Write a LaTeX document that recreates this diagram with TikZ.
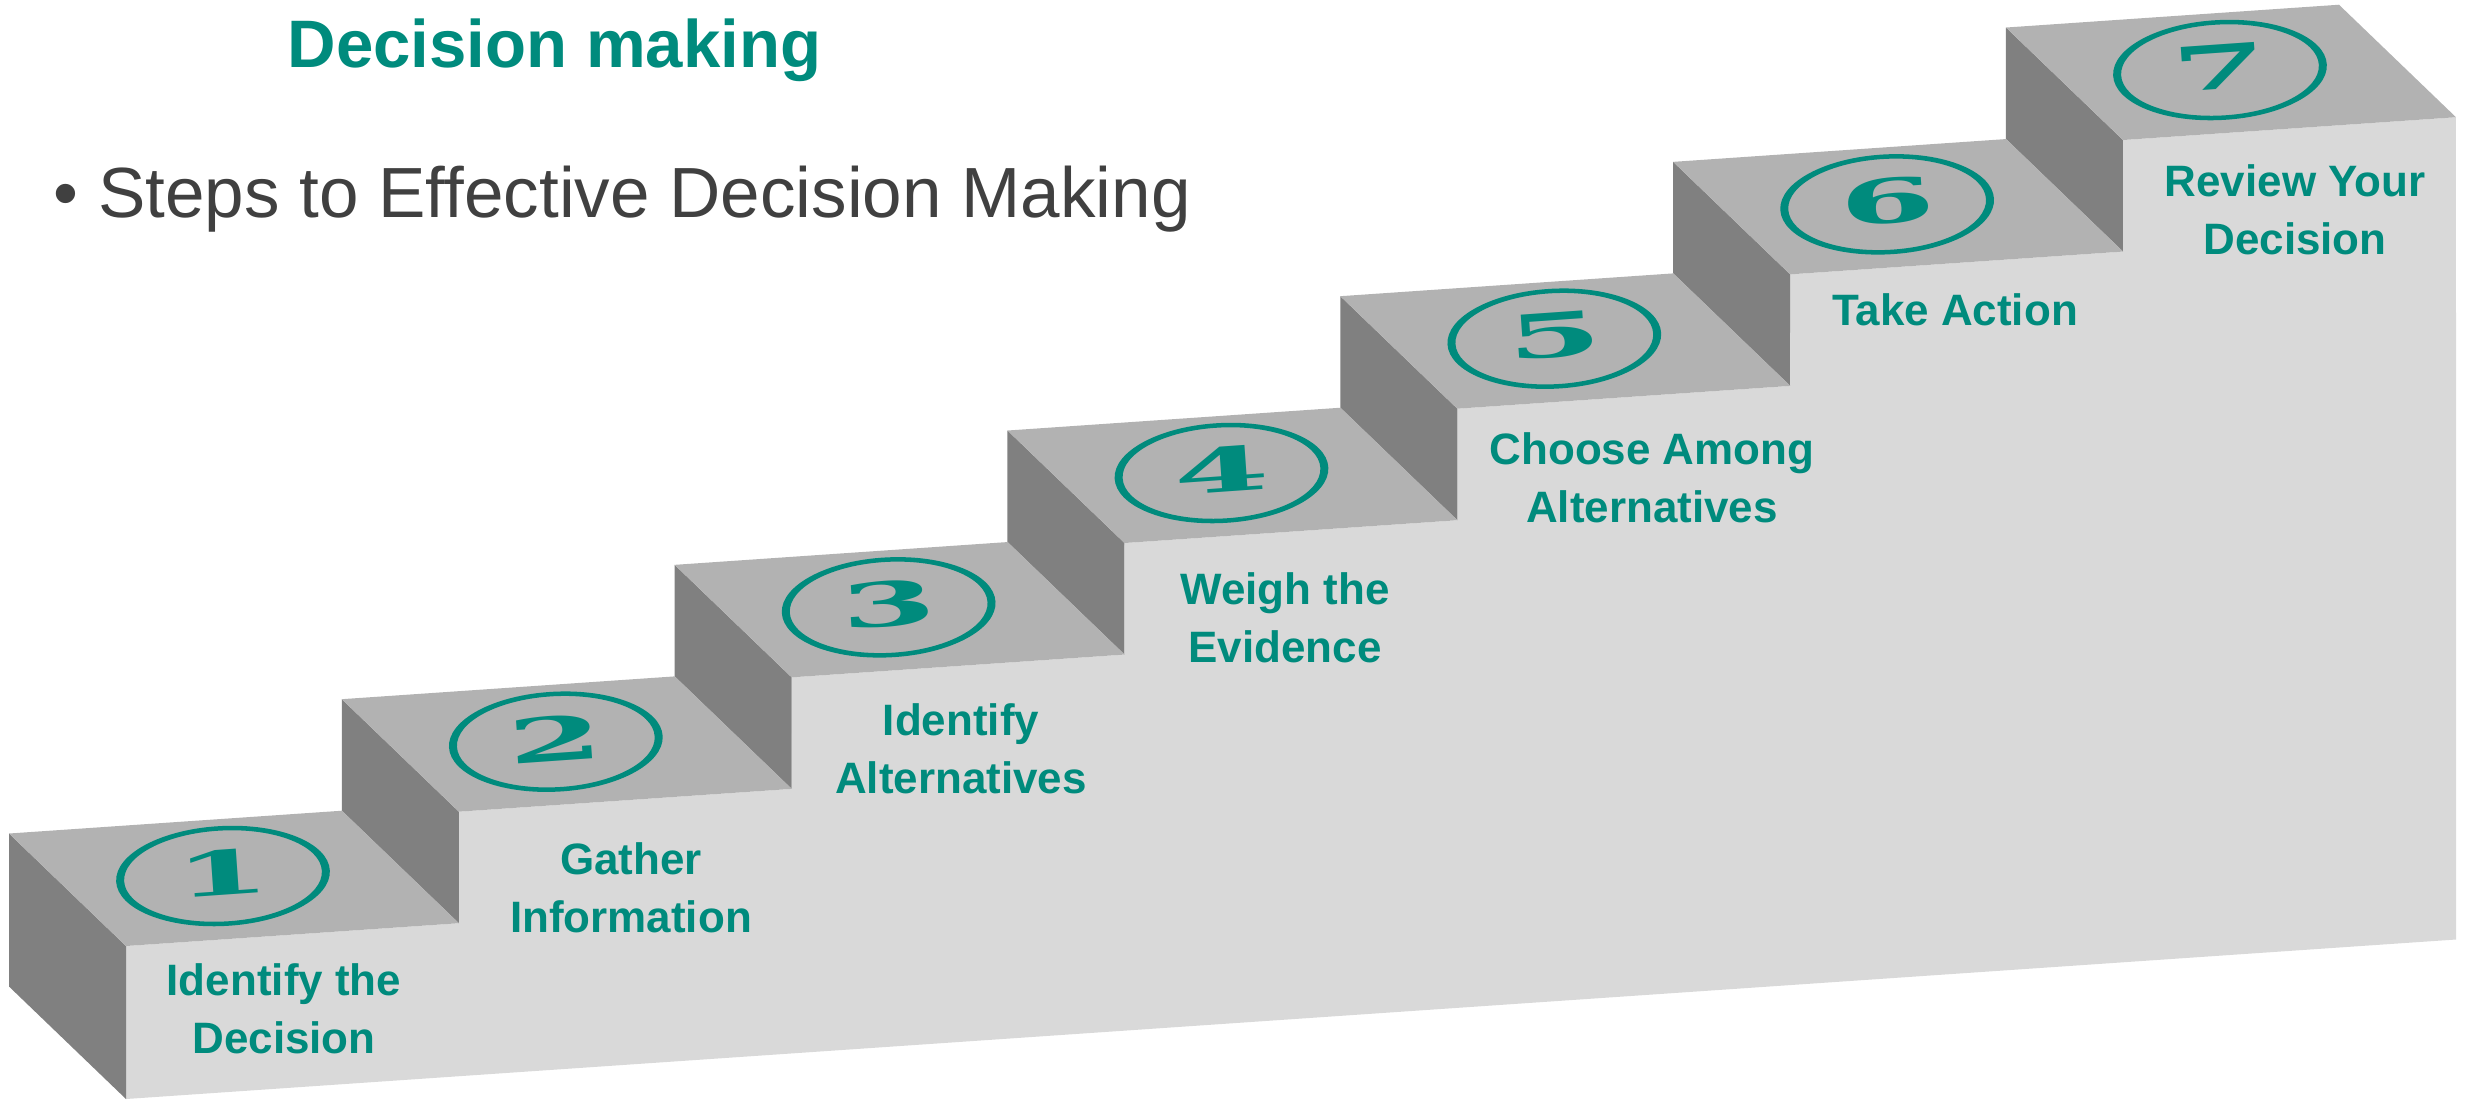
\documentclass[tikz,border=0pt]{standalone}
\usepackage{fontspec}
\setmainfont{Liberation Sans}
\newfontfamily\digitfont{DejaVu Serif}
\usetikzlibrary{calc}
\definecolor{tealc}{HTML}{008B7D}
\definecolor{topc}{HTML}{B2B2B2}
\definecolor{sidec}{HTML}{808080}
\definecolor{frontc}{HTML}{D9D9D9}
\definecolor{subc}{HTML}{404040}
\begin{document}
\begin{tikzpicture}[x=0.01cm,y=-0.01cm,
  topface/.style={fill=topc},
  sideface/.style={fill=sidec},
  frontface/.style={fill=frontc},
  ring/.style={fill=tealc, even odd rule},
  digit/.style={font=\digitfont\bfseries\fontsize{27.9pt}{30pt}\selectfont, text=tealc, inner sep=0pt, rotate=4, xscale=1.4, yscale=0.62},
  lab/.style={font=\bfseries\fontsize{12.5pt}{16.5pt}\selectfont, text=tealc, align=center, inner sep=0pt, anchor=north}]
\useasboundingbox (0,0) rectangle (2471,1099);
\foreach \i in {1,...,7} {
  \coordinate (F\i) at ({126+332.83*(\i-1)},{946-134.33*(\i-1)});
}
% front face
\fill[frontface] (126,1099) -- (F1) -- ++(333,-22.8) -- (F2) -- ++(333,-22.8)
  -- (F3) -- ++(333,-22.8) -- (F4) -- ++(333,-22.8) -- (F5) -- ++(333,-22.8)
  -- (F6) -- ++(333,-22.8) -- (F7) -- ++(333,-22.8) -- (2456,939.5) -- cycle;
% left side of first step
\fill[sideface] (F1) -- ++(-117,-112.5) -- ++(0,153) -- ++(117,112.5) -- cycle;
% risers
\foreach \i in {2,...,7} {
  \fill[sideface] (F\i) -- ++(-117,-112.5) -- ++(0,111.5) -- ++(117,112.5) -- cycle;
}
% top faces, rings, digits
\foreach \i in {1,...,7} {
  \fill[topface] (F\i) -- ++(333,-22.8) -- ++(-117,-112.5) -- ++(-333,22.8) -- cycle;
  \begin{scope}[shift={($(F\i)+(97,-70)$)}, rotate=3]
    \fill[ring] (0,0) ellipse [x radius=107, y radius=50] (0,0) ellipse [x radius=99, y radius=45.5];
  \end{scope}
  \node[digit] (d\i) at ($(F\i)+(97,-73)$) {\i};
}
% labels
\node[lab] (l1) at (284,963) {Identify the\\Decision};
\node[lab] (l2) at (631,842) {Gather\\Information};
\node[lab] (l3) at (961,703) {Identify\\Alternatives};
\node[lab] (l4) at (1285,572) {Weigh the\\Evidence};
\node[lab] (l5) at (1652,432) {Choose Among\\Alternatives};
\node[lab] (l6) at (1955,293) {Take Action};
\node[lab] (l7) at (2295,164) {Review Your\\Decision};
% title
\node[anchor=base west, inner sep=0pt, text=tealc, font=\bfseries\fontsize{19.1pt}{23pt}\selectfont] (title) at (287,67) {Decision making};
\node[anchor=base west, inner sep=0pt, text=subc, font=\fontsize{20.2pt}{24pt}\selectfont] (sub) at (53,217) {• Steps to Effective Decision Making};
\end{tikzpicture}
\end{document}
